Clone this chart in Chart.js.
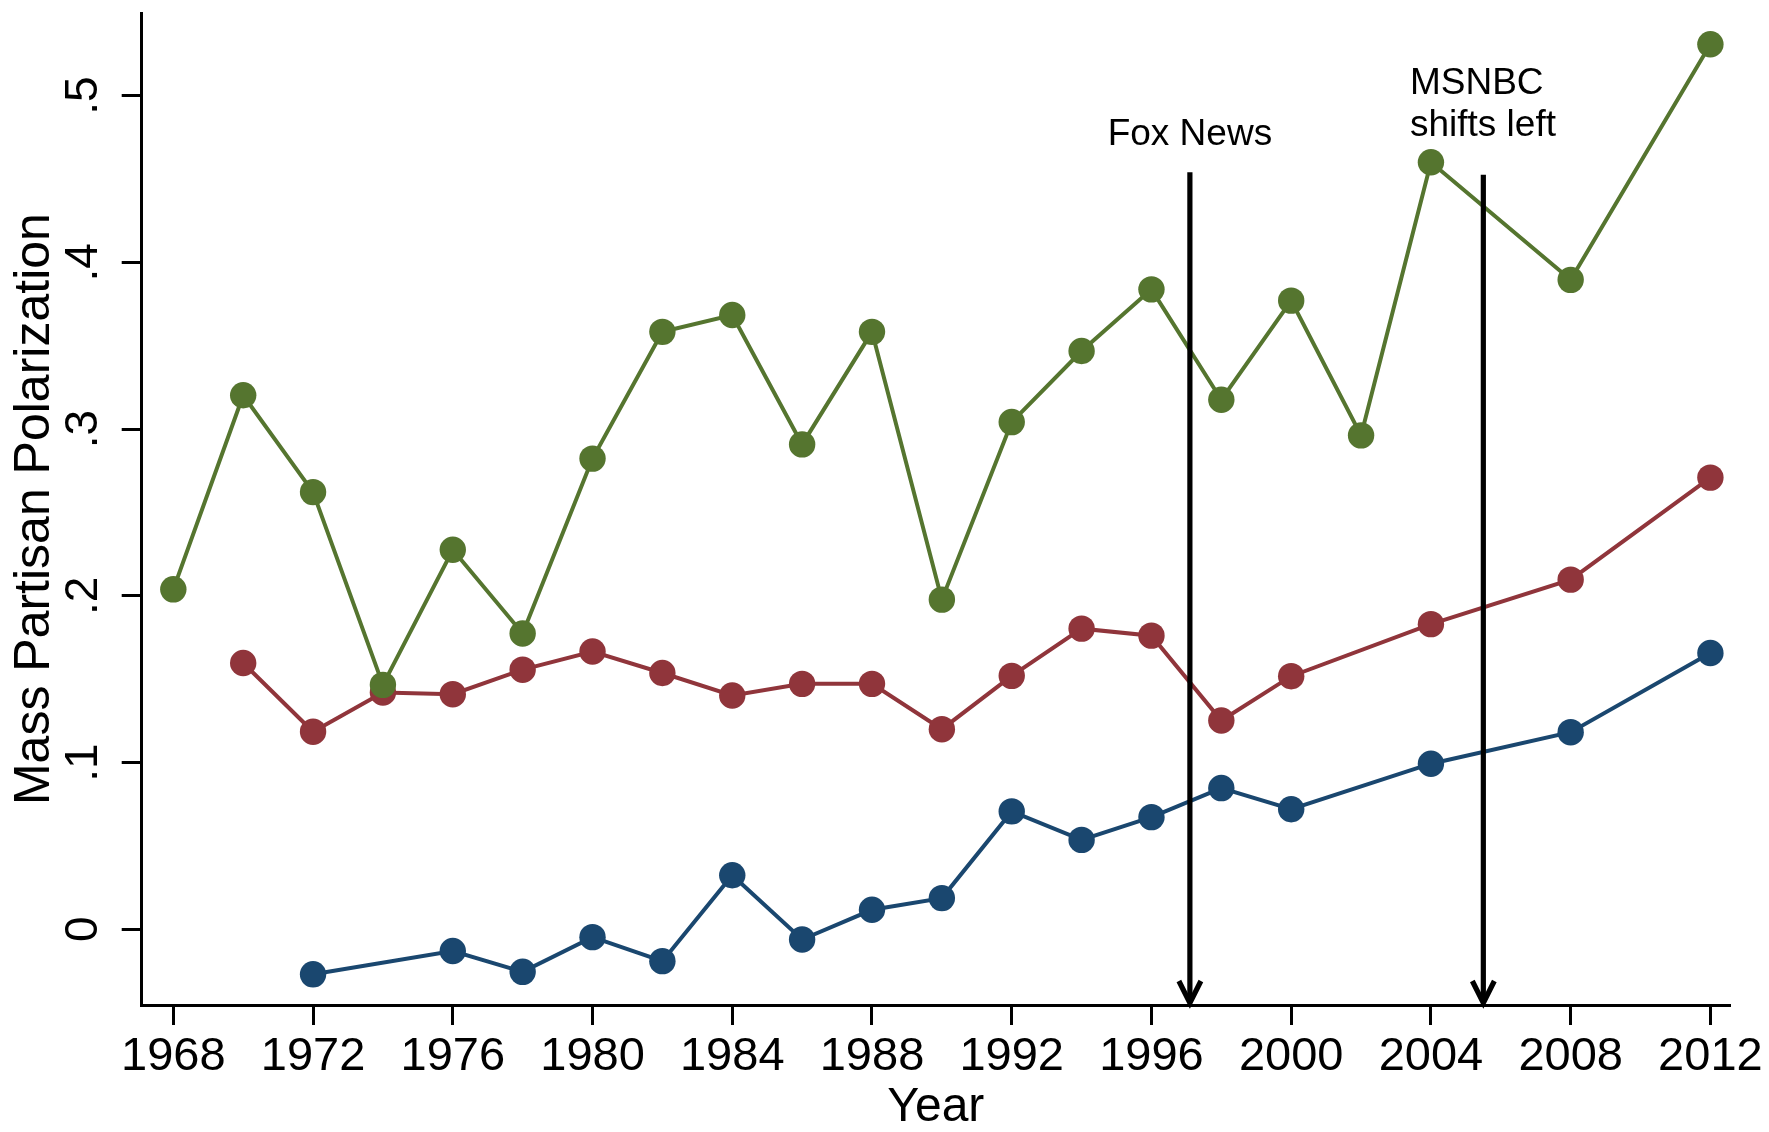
<!DOCTYPE html>
<html>
<head>
<meta charset="utf-8">
<script src="https://cdn.jsdelivr.net/npm/chart.js@4.4.1/dist/chart.umd.min.js"></script>
<style>
  html, body { margin: 0; padding: 0; background: #ffffff; }
  #wrap { width: 1769px; height: 1132px; position: relative; }
</style>
</head>
<body>
<div id="wrap"><canvas id="c" width="1769" height="1132"></canvas></div>
<script>
// ---- data ----
const years = [1968, 1970, 1972, 1974, 1976, 1978, 1980, 1982, 1984, 1986, 1988, 1990,
               1992, 1994, 1996, 1998, 2000, 2002, 2004, 2006, 2008, 2010, 2012];
const greenValues = [0.2039, 0.3203, 0.2622, 0.1466, 0.2276, 0.1774, 0.2823, 0.3583, 0.3684, 0.2908, 0.3583, 0.1977,
                     0.3042, 0.3468, 0.3838, 0.3176, 0.3770, 0.2962, 0.4600, null, 0.3895, null, 0.5308];
const redValues   = [null, 0.1597, 0.1185, 0.1420, 0.1410, 0.1557, 0.1666, 0.1537, 0.1402, 0.1472, 0.1472, 0.1200,
                     0.1520, 0.1803, 0.1761, 0.1252, 0.1518, null, 0.1830, null, 0.2097, null, 0.2709];
const blueValues  = [null, null, -0.0270, null, -0.0130, -0.0255, -0.0047, -0.0191, 0.0324, -0.0061, 0.0117, 0.0187,
                     0.0707, 0.0536, 0.0673, 0.0847, 0.0720, null, 0.0993, null, 0.1182, null, 0.1657];
const xTickYears = [1968, 1972, 1976, 1980, 1984, 1988, 1992, 1996, 2000, 2004, 2008, 2012];
const yTickValues = [0, 0.1, 0.2, 0.3, 0.4, 0.5];

// annotation events (data units)
const eventYears = [1997.1, 2005.5];
const eventTops = [0.454, 0.4525];
const eventLabelLines = [["Fox News"], ["MSNBC", "shifts left"]];
const eventLabelYears = [1997.1, 2003.4];
const eventLabelAlign = ["center", "left"];
const eventLabelBaselines = [[0.4702], [0.5011, 0.4759]];

const GREEN = 'rgb(85,117,47)';
const RED = 'rgb(144,53,59)';
const BLUE = 'rgb(26,71,111)';
const FONT = '"Liberation Sans", Arial, Helvetica, sans-serif';

function pts(vals) {
  return years.map((yr, i) => ({ x: yr, y: vals[i] })).filter(p => p.y !== null);
}
function series(vals, color) {
  return {
    data: pts(vals),
    borderColor: color,
    backgroundColor: color,
    pointBackgroundColor: color,
    pointBorderWidth: 0,
    pointRadius: 13.2,
    borderWidth: 4,
    tension: 0,
    clip: false
  };
}

const eventsPlugin = {
  id: 'events',
  afterDatasetsDraw(chart) {
    const { ctx, scales: { x, y }, chartArea } = chart;
    ctx.save();
    eventYears.forEach((yr, i) => {
      const px = x.getPixelForValue(yr);
      const top = y.getPixelForValue(eventTops[i]);
      const tip = chartArea.bottom;
      ctx.strokeStyle = '#000';
      ctx.lineWidth = 5.2;
      ctx.lineCap = 'butt';
      ctx.beginPath();
      ctx.moveTo(px, top);
      ctx.lineTo(px, tip - 3);
      ctx.stroke();
      ctx.lineJoin = 'miter';
      ctx.beginPath();
      ctx.moveTo(px - 11, tip - 24);
      ctx.lineTo(px, tip - 2);
      ctx.lineTo(px + 11, tip - 24);
      ctx.stroke();

      ctx.fillStyle = '#000';
      ctx.font = '37px ' + FONT;
      ctx.textBaseline = 'alphabetic';
      ctx.textAlign = eventLabelAlign[i];
      const lx = x.getPixelForValue(eventLabelYears[i]);
      eventLabelLines[i].forEach((line, j) => {
        ctx.fillText(line, lx, y.getPixelForValue(eventLabelBaselines[i][j]));
      });
    });
    ctx.restore();
  }
};

new Chart(document.getElementById('c'), {
  type: 'line',
  data: {
    datasets: [
      series(greenValues, GREEN),
      series(redValues, RED),
      series(blueValues, BLUE)
    ]
  },
  options: {
    responsive: false,
    animation: false,
    devicePixelRatio: 1,
    layout: { padding: { left: 0, right: 39, top: 10, bottom: 0 } },
    plugins: { legend: { display: false }, tooltip: { enabled: false } },
    scales: {
      x: {
        type: 'linear',
        position: 'bottom',
        min: 1967.095,
        max: 2012.561,
        afterBuildTicks: s => { s.ticks = xTickYears.map(v => ({ value: v })); },
        afterFit: s => { s.height = 127; s.paddingLeft = 0; s.paddingRight = 0; },
        grid: { display: true, drawOnChartArea: false, drawTicks: true, tickLength: 20, tickWidth: 3, tickColor: '#000' },
        border: { display: true, color: '#000', width: 3 },
        ticks: {
          color: '#000',
          font: { family: FONT, size: 47 },
          padding: 4,
          maxRotation: 0,
          minRotation: 0,
          autoSkip: false,
          callback: v => String(v)
        },
        title: {
          display: true,
          text: 'Year',
          color: '#000',
          font: { family: FONT, size: 48, lineHeight: 1 },
          padding: { top: 0, bottom: 0 }
        }
      },
      y: {
        type: 'linear',
        position: 'left',
        min: -0.0454,
        max: 0.5494,
        afterBuildTicks: s => { s.ticks = yTickValues.map(v => ({ value: v })); },
        afterFit: s => { s.width = 141.7; s.paddingTop = 0; s.paddingBottom = 0; },
        grid: { display: true, drawOnChartArea: false, drawTicks: true, tickLength: 20, tickWidth: 3, tickColor: '#000' },
        border: { display: true, color: '#000', width: 3 },
        ticks: {
          color: '#000',
          font: { family: FONT, size: 46 },
          padding: 18.4,
          minRotation: 90,
          maxRotation: 90,
          crossAlign: 'center',
          autoSkip: false,
          callback: v => (v === 0 ? '0' : v.toFixed(1).replace(/^0/, ''))
        },
        title: {
          display: true,
          text: 'Mass Partisan Polarization',
          color: '#000',
          font: { family: FONT, size: 50 },
          padding: { top: 5, bottom: 0 }
        }
      }
    }
  },
  plugins: [eventsPlugin]
});
</script>
</body>
</html>
